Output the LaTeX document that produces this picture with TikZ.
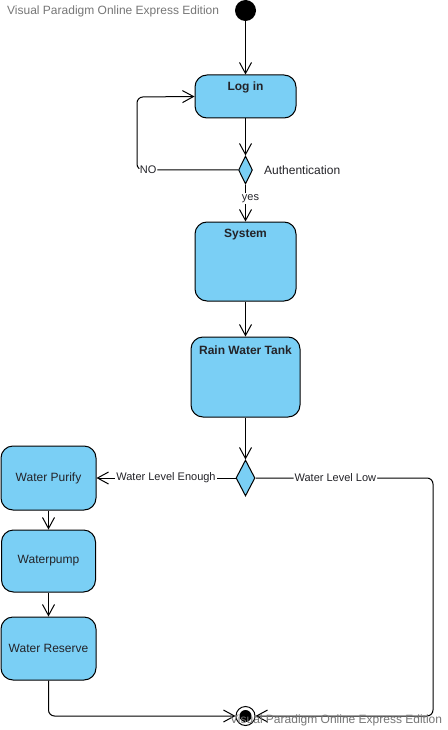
\documentclass[tikz,border=0pt]{standalone}
\usepackage{fontspec}
\setmainfont{Liberation Sans}
\usetikzlibrary{arrows.meta,shapes.geometric}
\definecolor{vpblue}{RGB}{122,207,245}
\definecolor{vpink}{RGB}{35,35,40}
\definecolor{vpgray}{RGB}{118,118,118}
\tikzset{
	activity/.style={draw=black, fill=vpblue, rounded corners=12pt, line width=1pt, inner sep=0pt},
	decision/.style={diamond, draw=black, fill=vpblue, line width=1pt, inner sep=0pt},
	title/.style={font=\fontsize{12}{14}\selectfont\bfseries, text=vpink, inner sep=0pt},
	caption/.style={font=\fontsize{12}{14}\selectfont, text=vpink, inner sep=0pt},
	guard/.style={font=\fontsize{11}{13}\selectfont, text=vpink, fill=white, inner sep=1pt},
	flow/.style={line width=1pt, -{Straight Barb[length=11pt,width=12pt]}},
	watermark/.style={font=\fontsize{12}{14}\selectfont, text=vpgray, inner sep=0pt},
}

\begin{document}
\begin{tikzpicture}[x=1pt, y=-1pt]
		%%%%% START %%%%%
		\useasboundingbox (0,0) rectangle (447,730);
		
		\node[watermark, anchor=west] (topmark) at (7,11) {Visual Paradigm Online Express Edition};
		\node[circle, fill=black, minimum size=21pt, inner sep=0pt] (start) at (245.5,10.5) {};
		
		\node[activity, minimum width=101pt, minimum height=43pt] (login) at (245.5,96.5) {};
		\node[title] (logintxt) at ([yshift=-13pt]login.north) {Log in};
		
		\node[decision, minimum width=14pt, minimum height=28pt] (auth) at (245.5,170) {};
		\node[caption, anchor=west] (authtxt) at (264,170) {Authentication};
		
		\node[activity, minimum width=101pt, minimum height=79pt] (system) at (245.5,261.5) {};
		\node[title] (systemtxt) at ([yshift=-13pt]system.north) {System};
		
		\node[activity, minimum width=109pt, minimum height=80pt] (tank) at (245.5,377) {};
		\node[title] (tanktxt) at ([yshift=-14pt]tank.north) {Rain Water Tank};
		
		\node[decision, minimum width=19pt, minimum height=36pt] (level) at (245.5,478) {};
		
		\node[activity, minimum width=95pt, minimum height=64pt] (purify) at (48.5,478) {};
		\node[caption] (purifytxt) at (purify) {Water Purify};
		\node[activity, minimum width=94pt, minimum height=62pt] (pump) at (48.5,561) {};
		\node[caption] (pumptxt) at (pump) {Waterpump};
		\node[activity, minimum width=95pt, minimum height=63pt] (reserve) at (48.5,648.5) {};
		\node[caption] (reservetxt) at (reserve) {Water Reserve};
		
		\node[circle, draw=black, line width=1pt, fill=white, minimum size=19pt, inner sep=0pt] (final) at (245.5,716) {};
		\node[circle, fill=black, minimum size=12pt, inner sep=0pt] (finaldot) at (final) {};
		
		\draw[flow] (start) -- (login);
		\draw[flow] (login) -- (auth);
		\draw[flow, rounded corners=6pt] (auth.west) -- node[guard, pos=0.89] {NO} (137,170) -- (137,97) -- (login.west);
		\draw[flow] (auth) -- (system) node[guard, pos=0.38, xshift=5pt] {yes};
		\draw[flow] (system) -- (tank);
		\draw[flow] (tank) -- (level);
		\draw[flow] (level) -- node[guard] {Water Level Enough} (purify);
		\draw[flow] (purify) -- (pump);
		\draw[flow] (pump) -- (reserve);
		\draw[flow, rounded corners=6pt] (level.east) -- node[guard, pos=0.45] {Water Level Low} (433,478) -- (433,716) -- (final.east);
		\draw[flow, rounded corners=6pt] (reserve.south) -- (48.5,716) -- (final.west);
		
		\node[watermark, anchor=west] (bottommark) at (230,720) {Visual Paradigm Online Express Edition};
		
		%%%%% END %%%%%
\end{tikzpicture}
\end{document}
